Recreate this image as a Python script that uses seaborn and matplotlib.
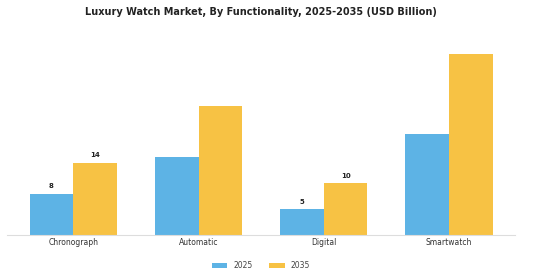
import pandas as pd
import matplotlib.pyplot as plt
import seaborn as sns

# Chart data
categories = ["Chronograph", "Automatic", "Digital", "Smartwatch"]
values_2025 = [8, 15, 5, 19.5]
values_2035 = [14, 25, 10, 35]
years = ["2025", "2035"]
labelled = ["Chronograph", "Digital"]

df = pd.DataFrame({
    "Functionality": categories * 2,
    "Year": [years[0]] * len(categories) + [years[1]] * len(categories),
    "Value": values_2025 + values_2035,
})

sns.set_style("white")
plt.rcParams['font.family'] = ['DejaVu Sans']

fig = plt.figure(figsize=(5.6, 2.8), dpi=100)
ax = fig.add_axes([0.0125, 0.1607, 0.9075, 0.693])

palette = {"2025": "#5DB3E5", "2035": "#F7C244"}
sns.barplot(data=df, x="Functionality", y="Value", hue="Year",
            palette=palette, width=0.7, saturation=1, linewidth=0,
            ax=ax, legend=True)

# Value labels only on some categories
for container, yr in zip(ax.containers, years):
    labels = []
    for cat, bar in zip(categories, container):
        h = bar.get_height()
        labels.append(f"{h:g}" if cat in labelled else "")
    ax.bar_label(container, labels=labels, padding=3, fontsize=5,
                 fontweight='bold', color='#222222')

ax.set_xlim(-0.53, 3.53)
ax.set_ylim(0, 37.5)
ax.set_xlabel("")
ax.set_ylabel("")
ax.set_yticks([])
for s in ["top", "right", "left"]:
    ax.spines[s].set_visible(False)
ax.spines["bottom"].set_color("#dddddd")
ax.spines["bottom"].set_linewidth(0.8)
ax.tick_params(axis='x', length=0, labelsize=5.5, colors='#333333', pad=2)

ax.legend(loc='upper center', bbox_to_anchor=(0.5, -0.1), ncol=2,
          frameon=False, fontsize=5.5, handlelength=2.0, handleheight=0.7,
          columnspacing=2.2, labelcolor='#444444')

fig.suptitle("Luxury Watch Market, By Functionality, 2025-2035 (USD Billion)",
             x=0.466, y=0.975, fontsize=7, fontweight='bold', color='#222222')

fig.savefig("out.png", dpi=100)
